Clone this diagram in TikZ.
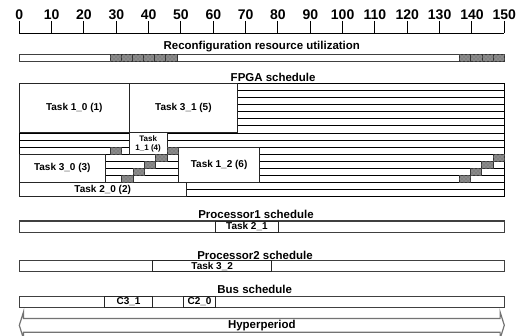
\documentclass[tikz,border=0pt]{standalone}
\usepackage{fontspec}
\setmainfont{Liberation Sans}
\usetikzlibrary{shapes.arrows,patterns}

\tikzset{
  lbl/.style={font=\fontsize{8.6}{10}\selectfont\bfseries, inner sep=0pt},
  num/.style={font=\fontsize{10.5}{12}\selectfont\bfseries, inner sep=0pt},
  tsk/.style={font=\fontsize{7.5}{9}\selectfont\bfseries, inner sep=0pt},
  tsksmall/.style={font=\fontsize{6}{6.8}\selectfont\bfseries, inner sep=0pt, align=center},
  bar/.style={draw=black!75, line width=0.9pt, fill=white},
  box/.style={draw=black!85, line width=0.7pt, fill=white},
  row/.style={draw=black, line width=0.55pt},
  cfg/.style={draw=black!80, line width=0.7pt, fill=black!50,
    postaction={pattern=crosshatch dots, pattern color=black!30}},
}

\begin{document}
\begin{tikzpicture}[x=0.75pt, y=-0.75pt]

\useasboundingbox (0,0) rectangle (531,335);

\begin{scope}[xshift=14.475pt, x=2.425pt]

  \node[num] (n0) at (0,14.5) {0};
  \node[num] (n10) at (10,14.5) {10};
  \node[num] (n20) at (20,14.5) {20};
  \node[num] (n30) at (30,14.5) {30};
  \node[num] (n40) at (40,14.5) {40};
  \node[num] (n50) at (50,14.5) {50};
  \node[num] (n60) at (60,14.5) {60};
  \node[num] (n70) at (70,14.5) {70};
  \node[num] (n80) at (80,14.5) {80};
  \node[num] (n90) at (90,14.5) {90};
  \node[num] (n100) at (100,14.5) {100};
  \node[num] (n110) at (110,14.5) {110};
  \node[num] (n120) at (120,14.5) {120};
  \node[num] (n130) at (130,14.5) {130};
  \node[num] (n140) at (140,14.5) {140};
  \node[num] (n150) at (150,14.5) {150};

  \draw[line width=0.75pt] (0,33.3) -- (150,33.3);
  \draw[line width=0.75pt] (0,21) -- (0,33.3);
  \draw[line width=0.75pt] (10,21) -- (10,33.3);
  \draw[line width=0.75pt] (20,21) -- (20,33.3);
  \draw[line width=0.75pt] (30,21) -- (30,33.3);
  \draw[line width=0.75pt] (40,21) -- (40,33.3);
  \draw[line width=0.75pt] (50,21) -- (50,33.3);
  \draw[line width=0.75pt] (60,21) -- (60,33.3);
  \draw[line width=0.75pt] (70,21) -- (70,33.3);
  \draw[line width=0.75pt] (80,21) -- (80,33.3);
  \draw[line width=0.75pt] (90,21) -- (90,33.3);
  \draw[line width=0.75pt] (100,21) -- (100,33.3);
  \draw[line width=0.75pt] (110,21) -- (110,33.3);
  \draw[line width=0.75pt] (120,21) -- (120,33.3);
  \draw[line width=0.75pt] (130,21) -- (130,33.3);
  \draw[line width=0.75pt] (140,21) -- (140,33.3);
  \draw[line width=0.75pt] (150,21) -- (150,33.3);

  % reconfiguration resource
  \node[lbl] (rru) at (75,47) {Reconfiguration resource utilization};
  \draw[bar] (0,54.3) rectangle (150,61.3);
  \draw[cfg] (28.1,54.3) rectangle ++(3.45,7);
  \draw[cfg] (31.55,54.3) rectangle ++(3.45,7);
  \draw[cfg] (35.0,54.3) rectangle ++(3.45,7);
  \draw[cfg] (38.45,54.3) rectangle ++(3.45,7);
  \draw[cfg] (41.9,54.3) rectangle ++(3.45,7);
  \draw[cfg] (45.35,54.3) rectangle ++(3.45,7);
  \draw[cfg] (136.2,54.3) rectangle ++(3.45,7);
  \draw[cfg] (139.65,54.3) rectangle ++(3.45,7);
  \draw[cfg] (143.1,54.3) rectangle ++(3.45,7);
  \draw[cfg] (146.55,54.3) rectangle ++(3.45,7);

  % FPGA
  \node[lbl] (fpga) at (78.5,77) {FPGA schedule};
  \begin{scope}[yshift=-62.475pt, y=-5.3156pt]
    \draw[row] (0,0) -- (150,0);
    \draw[row] (0,1) -- (150,1);
    \draw[row] (0,2) -- (150,2);
    \draw[row] (0,3) -- (150,3);
    \draw[row] (0,4) -- (150,4);
    \draw[row] (0,5) -- (150,5);
    \draw[row] (0,6) -- (150,6);
    \draw[row] (0,7) -- (150,7);
    \draw[row] (0,8) -- (150,8);
    \draw[row] (0,9) -- (150,9);
    \draw[row] (0,10) -- (150,10);
    \draw[row] (0,11) -- (150,11);
    \draw[row] (0,12) -- (150,12);
    \draw[row] (0,13) -- (150,13);
    \draw[row] (0,14) -- (150,14);
    \draw[row] (0,15) -- (150,15);
    \draw[row] (0,16) -- (150,16);
    \draw[row] (0,0) -- (0,16);
    \draw[row] (150,0) -- (150,16);

    \draw[box] (0,0) rectangle (34,7) node[tsk, midway] (t10) {Task 1\_0 (1)};
    \draw[box] (34,0) rectangle (67.5,7) node[tsk, midway] (t31) {Task 3\_1 (5)};
    \draw[box] (34,7) rectangle (45.7,10) node[tsksmall, midway] (t11) {Task\\1\_1 (4)};
    \draw[box] (49.2,9) rectangle (74.4,14) node[tsk, midway] (t12) {Task 1\_2 (6)};
    \draw[box] (0,10) rectangle (26.6,14) node[tsk, midway] (t30) {Task 3\_0 (3)};
    \draw[box] (0,14) rectangle (51.6,16) node[tsk, midway] (t20) {Task 2\_0 (2)};

    \draw[cfg] (28.2,9) rectangle ++(3.5,1);
    \draw[cfg] (31.7,13) rectangle ++(3.5,1);
    \draw[cfg] (35.2,12) rectangle ++(3.5,1);
    \draw[cfg] (38.7,11) rectangle ++(3.5,1);
    \draw[cfg] (42.2,10) rectangle ++(3.5,1);
    \draw[cfg] (45.7,9) rectangle ++(3.5,1);
    \draw[cfg] (136,13) rectangle ++(3.5,1);
    \draw[cfg] (139.5,12) rectangle ++(3.5,1);
    \draw[cfg] (143,11) rectangle ++(3.5,1);
    \draw[cfg] (146.5,10) rectangle ++(3.5,1);
  \end{scope}

  % processors and bus
  \node[lbl] (p1) at (73.2,214) {Processor1 schedule};
  \draw[bar] (0,221) rectangle (150,232.4);
  \draw[box] (60.8,221) rectangle (80,232.4) node[tsk, midway] (t21) {Task 2\_1};

  \node[lbl] (p2) at (72.9,255) {Processor2 schedule};
  \draw[bar] (0,260.7) rectangle (150,271.3);
  \draw[box] (41.3,260.7) rectangle (78,271.3) node[tsk, midway] (t32) {Task 3\_2};

  \node[lbl] (bus) at (72.8,289.5) {Bus schedule};
  \draw[bar] (0,296.7) rectangle (150,307.3);
  \draw[box] (26.3,296.7) rectangle (41.3,307.3) node[tsk, midway] (c31) {C3\_1};
  \draw[box] (50.7,296.7) rectangle (60.8,307.3) node[tsk, midway] (c20) {C2\_0};

  \node[lbl, double arrow, draw=black!55, line width=0.9pt,
    minimum height=363.75pt, text height=6.4pt, text depth=1.6pt,
    inner xsep=0pt, inner ysep=0.725pt,
    double arrow head extend=4.725pt, double arrow tip angle=145]
    (hp) at (75,325.3) {Hyperperiod};

\end{scope}

\end{tikzpicture}
\end{document}
